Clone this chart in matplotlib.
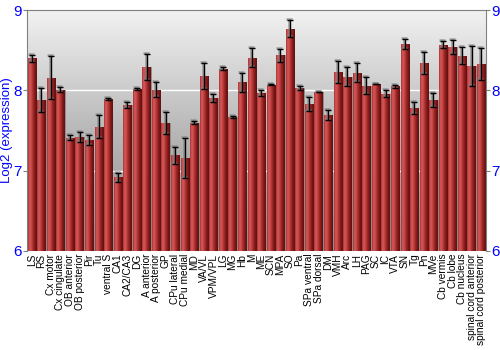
import numpy as np
import matplotlib
matplotlib.use('Agg')
import matplotlib.pyplot as plt
from matplotlib.colors import LinearSegmentedColormap
import matplotlib.transforms as mtransforms

plt.rcParams['font.family'] = ['Liberation Sans', 'DejaVu Sans']

# Brain regions and log2 expression (mean, +/- error)
regions = ['LS', 'RS', 'Cx motor', 'Cx cingulate', 'OB anterior', 'OB posterior',
           'Pir', 'Tu', 'ventral S', 'CA1', 'CA2/CA3', 'DG', 'A anterior',
           'A posterior', 'GP', 'CPu lateral', 'CPu medial', 'MD', 'VA/VL',
           'VPM/VPL', 'LG', 'MG', 'Hb', 'M', 'ME', 'SCN', 'MPA', 'SO', 'Pa',
           'SPa ventral', 'SPa dorsal', 'DM', 'VMH', 'Arc', 'LH', 'PAG', 'SC',
           'IC', 'VTA', 'SN', 'Tg', 'Pn', 'MVe', 'Cb vermis', 'Cb lobe',
           'Cb nucleus', 'spinal cord anterior', 'spinal cord posterior']
expression = [8.40, 7.88, 8.16, 8.01, 7.41, 7.42, 7.38, 7.55, 7.89, 6.92,
              7.82, 8.02, 8.29, 8.01, 7.59, 7.19, 7.16, 7.60, 8.18, 7.91,
              8.27, 7.67, 8.10, 8.41, 7.97, 8.07, 8.44, 8.77, 8.03, 7.83,
              7.98, 7.69, 8.23, 8.17, 8.22, 8.06, 8.08, 7.96, 8.05, 8.58,
              7.78, 8.34, 7.88, 8.57, 8.54, 8.43, 8.30, 8.33]
error = [0.045, 0.15, 0.27, 0.03, 0.03, 0.06, 0.06, 0.14, 0.01, 0.055,
         0.035, 0.01, 0.165, 0.09, 0.135, 0.11, 0.25, 0.015, 0.165, 0.05,
         0.02, 0.015, 0.115, 0.115, 0.04, 0.005, 0.08, 0.11, 0.03, 0.09,
         0.005, 0.06, 0.135, 0.12, 0.12, 0.11, 0.005, 0.045, 0.015, 0.065,
         0.07, 0.14, 0.09, 0.04, 0.085, 0.105, 0.25, 0.195]

blue = '#0000ff'
fig = plt.figure(figsize=(5, 3.5), dpi=100)
ax = fig.add_axes([0.054, 0.283, 0.918, 0.688])

x = np.arange(len(regions))
x0, x1 = -0.5, len(regions) - 0.5

# gray gradient background: dark at the bottom, light at the top
bg = LinearSegmentedColormap.from_list('bg', ['#f2f2f2', '#b8b8b8', '#8c8c8c'])
ax.imshow(np.linspace(1, 0, 256).reshape(-1, 1), cmap=bg, aspect='auto',
          origin='lower', extent=[x0, x1, 6, 9], zorder=0)

for yv in [7, 8]:
    ax.axhline(yv, color='white', lw=1, zorder=1)

bars = ax.bar(x, np.array(expression) - 6, bottom=6, width=0.88,
              color='#b03030', edgecolor='#909090', linewidth=0.6, zorder=2)

# cylinder-like shading on each bar
shade = LinearSegmentedColormap.from_list(
    'shade', ['#a83232', '#d65a5a', '#c44444', '#a02828', '#7a1818', '#5e1010'])
grad = np.linspace(0, 1, 64).reshape(1, -1)
for b in bars:
    bx, by = b.get_x(), b.get_y()
    im = ax.imshow(grad, cmap=shade, aspect='auto', zorder=2.5, origin='lower',
                   extent=[bx, bx + b.get_width(), by, by + b.get_height()])
    im.set_clip_path(b)

# error bars with soft shadow
shadow = mtransforms.offset_copy(ax.transData, fig=fig, x=-1, y=1, units='dots')
ax.errorbar(x, expression, yerr=error, fmt='none', ecolor='#808080',
            elinewidth=1.8, capsize=2.5, capthick=1.8, alpha=0.7,
            transform=shadow, zorder=3)
ax.errorbar(x, expression, yerr=error, fmt='none', ecolor='black',
            elinewidth=1, capsize=2.5, capthick=1, zorder=4)

ax.set_xlim(x0, x1)
ax.set_ylim(6, 9)

ax.set_xticks(x)
ax.set_xticklabels(regions, rotation=90, fontsize=7.3)
ax.tick_params(axis='x', length=0, pad=2)
ax.set_yticks([6, 7, 8, 9])
ax.tick_params(axis='y', colors='#808080', labelcolor=blue, labelsize=11,
               length=3, right=True, labelright=True, pad=1)
ax.set_ylabel('Log2 (expression)', color=blue, fontsize=9.5, labelpad=0)

for s in ['left', 'right', 'top']:
    ax.spines[s].set_color('#808080')
ax.spines['bottom'].set_visible(False)

fig.savefig('out.png', dpi=100)
